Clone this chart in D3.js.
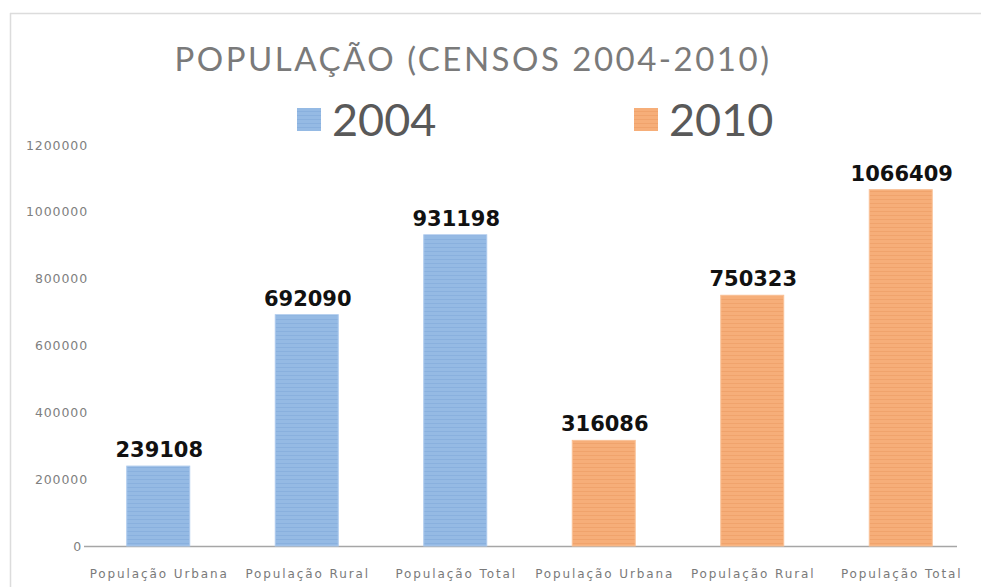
<!DOCTYPE html>
<html>
<head>
<meta charset="utf-8">
<script src="https://cdn.jsdelivr.net/npm/d3@7"></script>
<style>
  html, body { margin: 0; padding: 0; background: #fff; }
  svg { display: block; }
</style>
</head>
<body>
<svg id="chart" width="981" height="587"></svg>
<script>
// Census population figures, 2004 and 2010
const categories = ["População Urbana", "População Rural", "População Total",
                    "População Urbana", "População Rural", "População Total"];
const years = ["2004", "2004", "2004", "2010", "2010", "2010"];
const values = [239108, 692090, 931198, 316086, 750323, 1066409];
const yTicks = [0, 200000, 400000, 600000, 800000, 1000000, 1200000];
const legendYears = ["2004", "2010"];
const title = "POPULAÇÃO (CENSOS 2004-2010)";

const svg = d3.select("#chart");
const W = 981, H = 587;

const palette = {
  "2004": { base: "#95bae4", stripe: "#7ea6d8", edge: "#acc9ec" },
  "2010": { base: "#f6ae79", stripe: "#e99860", edge: "#f9c196" }
};

// striped fills for the bars
const defs = svg.append("defs");
Object.entries(palette).forEach(([k, c]) => {
  const p = defs.append("pattern")
    .attr("id", "stripe" + k)
    .attr("patternUnits", "userSpaceOnUse")
    .attr("width", 8).attr("height", 4);
  p.append("rect").attr("width", 8).attr("height", 4).attr("fill", c.base);
  p.append("rect").attr("y", 3).attr("width", 8).attr("height", 1)
    .attr("fill", c.stripe).attr("opacity", 0.5);
});

// outer frame
svg.append("line").attr("x1", 10).attr("x2", W).attr("y1", 13.5).attr("y2", 13.5)
  .attr("stroke", "#dcdcdc").attr("stroke-width", 1.5);
svg.append("line").attr("x1", 10.5).attr("x2", 10.5).attr("y1", 13).attr("y2", H)
  .attr("stroke", "#dcdcdc").attr("stroke-width", 1.5);

// title
svg.append("text")
  .attr("x", 473).attr("y", 71)
  .attr("text-anchor", "middle")
  .attr("font-family", "Lato, 'Open Sans', sans-serif")
  .attr("font-size", 33)
  .attr("letter-spacing", 2.5)
  .attr("fill", "#7a7a7a")
  .text(title);

// legend
const legendX = d3.scalePoint().domain(legendYears).range([297, 634]);
const lg = svg.append("g").selectAll("g").data(legendYears).join("g")
  .attr("transform", d => `translate(${legendX(d)},0)`);
lg.append("rect").attr("x", 0).attr("y", 108).attr("width", 24).attr("height", 23)
  .attr("fill", d => `url(#stripe${d})`);
lg.append("text").attr("x", 35).attr("y", 136)
  .attr("font-family", "Lato, 'Open Sans', sans-serif")
  .attr("font-size", 45)
  .attr("fill", "#595959")
  .text(d => d);

// scales
const y = d3.scaleLinear().domain([0, 1200000]).range([546, 145]);
const x = d3.scaleBand().domain(d3.range(categories.length))
  .range([84, 975]).paddingInner(0.576).paddingOuter(0.288);

// y axis labels (no axis line)
const yAxis = d3.axisLeft(y).tickValues(yTicks).tickSize(0).tickPadding(0)
  .tickFormat(d3.format("d"));
const yg = svg.append("g").attr("transform", "translate(88,0)").call(yAxis);
yg.select(".domain").remove();
yg.selectAll("text")
  .attr("font-family", "'DejaVu Sans', Verdana, sans-serif")
  .attr("font-size", 12.5)
  .attr("letter-spacing", 0.9)
  .attr("fill", "#808080");
yg.selectAll(".tick").filter(d => d === 0).select("text").attr("x", -6);

// baseline
svg.append("line").attr("x1", 84).attr("x2", 957)
  .attr("y1", y(0) + 0.5).attr("y2", y(0) + 0.5)
  .attr("stroke", "#a6a6a6").attr("stroke-width", 1.5);

// bars
const bars = svg.append("g").selectAll("g").data(values).join("g");
bars.append("rect")
  .attr("x", (d, i) => x(i))
  .attr("y", d => y(d))
  .attr("width", x.bandwidth())
  .attr("height", d => y(0) - y(d))
  .attr("fill", (d, i) => `url(#stripe${years[i]})`)
  .attr("stroke", (d, i) => palette[years[i]].edge)
  .attr("stroke-width", 1);

// value labels
bars.append("text")
  .attr("x", (d, i) => x(i) + x.bandwidth() / 2 + 1)
  .attr("y", d => y(d) - 9)
  .attr("text-anchor", "middle")
  .attr("font-family", "'DejaVu Sans', Verdana, sans-serif")
  .attr("font-weight", "bold")
  .attr("font-size", 21)
  .attr("fill", "#111")
  .text(d => d);

// category labels
svg.append("g").selectAll("text").data(categories).join("text")
  .attr("x", (d, i) => x(i) + x.bandwidth() / 2 + 1)
  .attr("y", 578)
  .attr("text-anchor", "middle")
  .attr("font-family", "'DejaVu Sans', Verdana, sans-serif")
  .attr("font-size", 12)
  .attr("letter-spacing", 1.9)
  .attr("fill", "#7a7a7a")
  .text(d => d);
</script>
</body>
</html>
